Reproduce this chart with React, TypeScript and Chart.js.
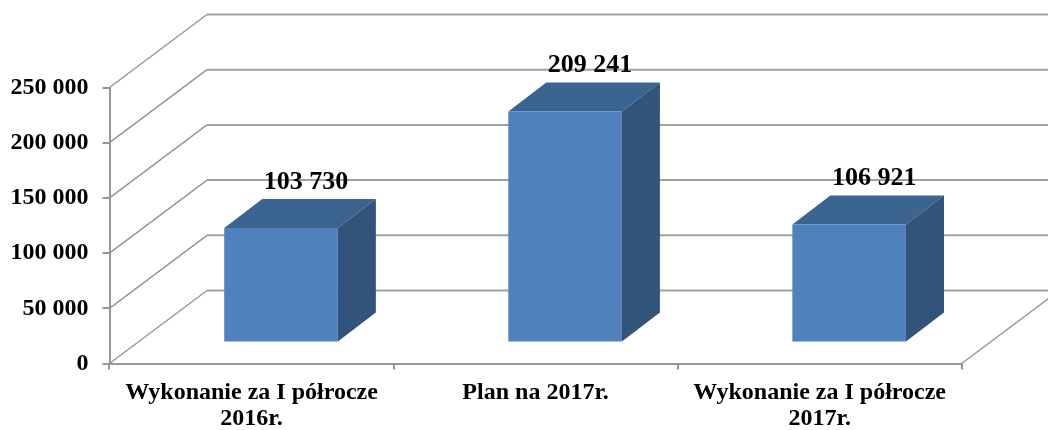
import React, { useEffect, useRef } from "react";
import { Chart, registerables } from "chart.js";

Chart.register(...registerables);

const categories: string[][] = [
  ["Wykonanie za I półrocze", "2016r."],
  ["Plan na 2017r."],
  ["Wykonanie za I półrocze", "2017r."],
];
const seriesValues: number[] = [103730, 209241, 106921];
const valueLabels: string[] = ["103 730", "209 241", "106 921"];

const FONT = '"Liberation Serif", "Times New Roman", serif';
const GRID = "#a0a0a0";
const DIAG = "#979797";
const AXIS = "#969696";
const FRONT = "#4f81bd";
const TOP = "#3c6491";
const SIDE = "#32537a";

// projection offsets of the 3D box
const WALL_DX = 97.5;
const WALL_DY = 73;
const BAR_DX = 29.5;
const BAR_DY = 21;
const BOX_DX = 38;
const BOX_DY = 29;

const poly = (ctx: CanvasRenderingContext2D, pts: number[][], fill: string) => {
  ctx.beginPath();
  pts.forEach(([x, y], i) => (i ? ctx.lineTo(x, y) : ctx.moveTo(x, y)));
  ctx.closePath();
  ctx.fillStyle = fill;
  ctx.fill();
};

const threeD = {
  id: "threeD",
  afterDatasetsUpdate(chart: any) {
    chart.getDatasetMeta(0).data.forEach((el: any) => {
      el.x += BAR_DX;
      el.y -= BAR_DY;
      el.base -= BAR_DY;
    });
  },
  beforeDatasetsDraw(chart: any) {
    const { ctx, chartArea, scales } = chart;
    const { left, right } = chartArea;
    ctx.save();
    scales.y.ticks.forEach((t: any) => {
      const y = scales.y.getPixelForValue(t.value);
      ctx.beginPath();
      ctx.moveTo(left, y);
      ctx.lineTo(left + WALL_DX, y - WALL_DY);
      ctx.strokeStyle = DIAG;
      ctx.lineWidth = 1.5;
      ctx.stroke();
      ctx.beginPath();
      ctx.moveTo(left + WALL_DX, y - WALL_DY);
      ctx.lineTo(right + WALL_DX, y - WALL_DY);
      ctx.strokeStyle = GRID;
      ctx.lineWidth = 2;
      ctx.stroke();
    });
    const y0 = scales.y.getPixelForValue(0);
    ctx.beginPath();
    ctx.moveTo(right, y0);
    ctx.lineTo(right + WALL_DX, y0 - WALL_DY);
    ctx.strokeStyle = DIAG;
    ctx.lineWidth = 1.5;
    ctx.stroke();
    chart.getDatasetMeta(0).data.forEach((el: any) => {
      const l = el.x - el.width / 2;
      const r = el.x + el.width / 2;
      poly(ctx, [[l, el.y], [l + BOX_DX, el.y - BOX_DY], [r + BOX_DX, el.y - BOX_DY], [r, el.y]], TOP);
      poly(ctx, [[r, el.y], [r + BOX_DX, el.y - BOX_DY], [r + BOX_DX, el.base - BOX_DY], [r, el.base]], SIDE);
    });
    ctx.restore();
  },
  afterDatasetsDraw(chart: any) {
    const { ctx } = chart;
    ctx.save();
    ctx.font = `bold 26px ${FONT}`;
    ctx.fillStyle = "#000";
    ctx.textAlign = "center";
    ctx.textBaseline = "middle";
    chart.getDatasetMeta(0).data.forEach((el: any, i: number) => {
      ctx.fillText(valueLabels[i], el.x + BOX_DX / 2 + 6, el.y - BOX_DY - 17);
    });
    ctx.restore();
  },
};

export default function App() {
  const ref = useRef<HTMLCanvasElement>(null);
  useEffect(() => {
    const chart = new Chart(ref.current!, {
      type: "bar",
      data: {
        labels: categories,
        datasets: [
          {
            data: seriesValues,
            backgroundColor: FRONT,
            barPercentage: 0.4,
            categoryPercentage: 1,
          },
        ],
      },
      plugins: [threeD],
      options: {
        animation: false,
        responsive: false,
        layout: { padding: { top: 87.5, right: 86.3, left: 0, bottom: 0 } },
        plugins: { legend: { display: false }, tooltip: { enabled: false } },
        scales: {
          x: {
            afterFit: (s: any) => { s.height = 66.5; },
            border: { color: AXIS, width: 2 },
            grid: { drawOnChartArea: false, color: AXIS, lineWidth: 2, tickLength: 6 },
            ticks: {
              color: "#000",
              font: { family: FONT, size: 24, weight: "bold", lineHeight: 1.1 },
              maxRotation: 0,
              autoSkip: false,
              padding: 10,
            },
          },
          y: {
            min: 0,
            max: 250000,
            afterFit: (s: any) => { s.width = 109.5; },
            border: { color: AXIS, width: 2 },
            grid: { drawOnChartArea: false, color: AXIS, lineWidth: 2, tickLength: 7 },
            ticks: {
              stepSize: 50000,
              color: "#000",
              font: { family: FONT, size: 24, weight: "bold" },
              padding: 14,
              callback: (v: any) => String(v).replace(/\B(?=(\d{3})+$)/g, " "),
            },
          },
        },
      },
    });
    return () => chart.destroy();
  }, []);
  return (
    <canvas
      ref={ref}
      width={1048}
      height={430}
      style={{ position: "fixed", left: 0, top: 0, width: 1048, height: 430, display: "block" }}
    />
  );
}
